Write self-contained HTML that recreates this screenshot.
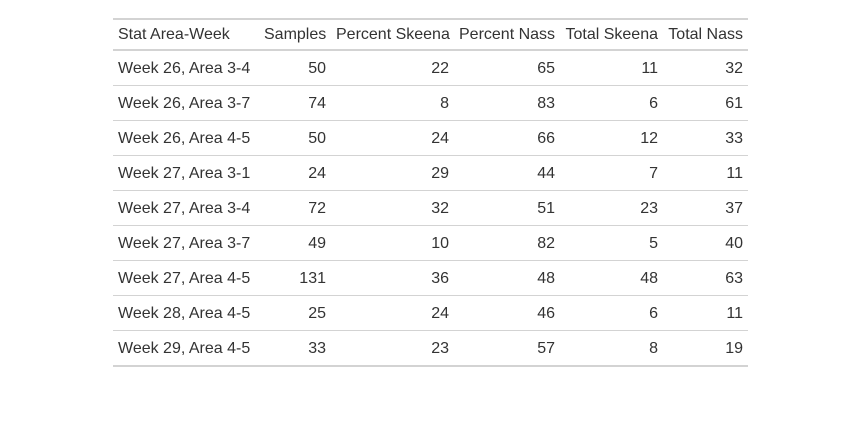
<!DOCTYPE html>
<html><head><meta charset="utf-8"><style>
html,body{margin:0;padding:0;background:#fff;width:859px;height:441px;overflow:hidden}
body{font-family:"Liberation Sans",sans-serif;font-size:16px;color:#333}
table{position:absolute;left:113px;top:18px;width:635px;table-layout:fixed;border-collapse:collapse;border-top:2px solid #d3d3d3;border-bottom:2px solid #d3d3d3}
th,td{padding:0 5px;white-space:nowrap;font-weight:normal}
thead th{height:28px;padding-top:1px;border-bottom:2px solid #d3d3d3}
tbody td{height:32px;border-top:1px solid #d3d3d3;padding-top:2px}
tbody tr:first-child td{border-top:none}
.l{text-align:left}.r{text-align:right}
</style></head><body>
<table>
<colgroup><col style="width:146px"><col style="width:72px"><col style="width:123px"><col style="width:106px"><col style="width:103px"><col style="width:85px"></colgroup>
<thead><tr>
<th class="l">Stat Area-Week</th>
<th class="r">Samples</th>
<th class="r">Percent Skeena</th>
<th class="r">Percent Nass</th>
<th class="r">Total Skeena</th>
<th class="r">Total Nass</th>
</tr></thead>
<tbody>
<tr><td class="l">Week 26, Area 3-4</td><td class="r">50</td><td class="r">22</td><td class="r">65</td><td class="r">11</td><td class="r">32</td></tr>
<tr><td class="l">Week 26, Area 3-7</td><td class="r">74</td><td class="r">8</td><td class="r">83</td><td class="r">6</td><td class="r">61</td></tr>
<tr><td class="l">Week 26, Area 4-5</td><td class="r">50</td><td class="r">24</td><td class="r">66</td><td class="r">12</td><td class="r">33</td></tr>
<tr><td class="l">Week 27, Area 3-1</td><td class="r">24</td><td class="r">29</td><td class="r">44</td><td class="r">7</td><td class="r">11</td></tr>
<tr><td class="l">Week 27, Area 3-4</td><td class="r">72</td><td class="r">32</td><td class="r">51</td><td class="r">23</td><td class="r">37</td></tr>
<tr><td class="l">Week 27, Area 3-7</td><td class="r">49</td><td class="r">10</td><td class="r">82</td><td class="r">5</td><td class="r">40</td></tr>
<tr><td class="l">Week 27, Area 4-5</td><td class="r">131</td><td class="r">36</td><td class="r">48</td><td class="r">48</td><td class="r">63</td></tr>
<tr><td class="l">Week 28, Area 4-5</td><td class="r">25</td><td class="r">24</td><td class="r">46</td><td class="r">6</td><td class="r">11</td></tr>
<tr><td class="l">Week 29, Area 4-5</td><td class="r">33</td><td class="r">23</td><td class="r">57</td><td class="r">8</td><td class="r">19</td></tr>
</tbody></table>
</body></html>
